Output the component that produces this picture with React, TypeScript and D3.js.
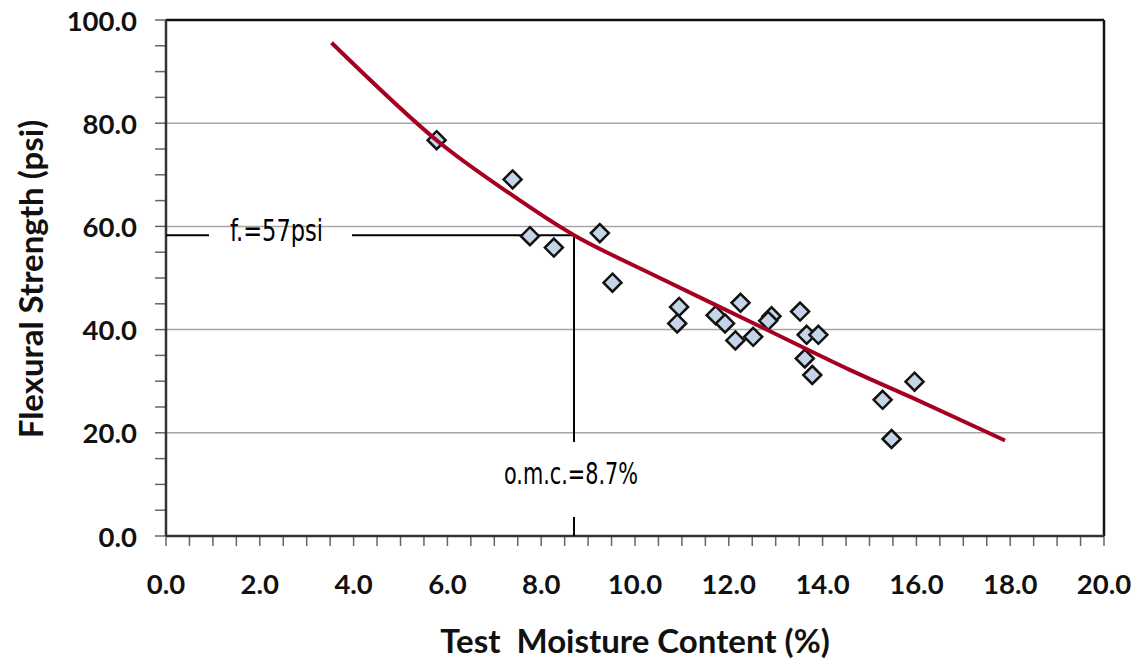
import { useEffect } from "react";
import * as d3 from "d3";

// measured points: test moisture content (%) vs flexural strength (psi)
const moisture = [5.77, 7.39, 7.76, 8.27, 9.25, 9.52, 10.94, 10.9, 11.72, 11.92, 12.25, 12.14, 12.52, 12.91, 12.84, 13.52, 13.66, 13.91, 13.62, 13.78, 15.28, 15.96, 15.47];
const strength = [76.7, 69.1, 58.1, 55.9, 58.7, 49.1, 44.4, 41.2, 42.8, 41.2, 45.2, 37.9, 38.6, 42.6, 41.7, 43.5, 39.0, 39.0, 34.4, 31.2, 26.4, 29.9, 18.8];

// trend curve
const trendX = [3.53, 5.77, 7.23, 8.7, 10.53, 12.67, 14.58, 15.86, 17.89];
const trendY = [95.6, 76.7, 67.0, 58.3, 50.0, 40.6, 32.2, 27.0, 18.5];

const xTicks = [0, 2, 4, 6, 8, 10, 12, 14, 16, 18, 20];
const yTicks = [0, 20, 40, 60, 80, 100];

// optimum moisture content marker
const omc = 8.7;
const fLevel = 58.3;
const fLabel = "f.=57psi";
const omcLabel = "o.m.c.=8.7%";

const W = 1141;
const H = 664;
const margin = { top: 20, right: 37, bottom: 128, left: 166 };

export default function App() {
  useEffect(() => {
    document.body.style.margin = "0";
  }, []);

  const x = d3.scaleLinear().domain([0, 20]).range([margin.left, W - margin.right]);
  const y = d3.scaleLinear().domain([0, 100]).range([H - margin.bottom, margin.top]);

  const minorY = d3.range(0, 100.01, 5);
  const minorX = d3.range(0, 20.01, 0.5);

  const pts = moisture.map((m, i) => ({ m, s: strength[i] }));
  const trend = trendX.map((t, i) => [t, trendY[i]] as [number, number]);
  const line = d3
    .line<[number, number]>()
    .x((d) => x(d[0]))
    .y((d) => y(d[1]))
    .curve(d3.curveCatmullRom.alpha(0.5));

  const x0 = x(0), x1 = x(20), y0 = y(0), y1 = y(100);
  const r = 9;
  const boldFont = "Lato, 'Open Sans', sans-serif";
  const narrowFont = "'Liberation Sans Narrow', 'DejaVu Sans Condensed', sans-serif";

  return (
    <svg width={W} height={H} style={{ display: "block", background: "#fff" }}>
      {/* gridlines */}
      {yTicks.slice(1, -1).map((t) => (
        <line key={"g" + t} x1={x0} x2={x1} y1={y(t)} y2={y(t)} stroke="#a6a6a6" strokeWidth={1.5} />
      ))}

      {/* y ticks */}
      {minorY.map((t) => (
        <line key={"yt" + t} x1={x0 - 11} x2={x0} y1={y(t)} y2={y(t)} stroke="#666" strokeWidth={1.5} />
      ))}
      {/* x ticks */}
      {minorX.map((t) => (
        <line key={"xt" + t} x1={x(t)} x2={x(t)} y1={y0} y2={y0 + 10} stroke="#666" strokeWidth={1.5} />
      ))}

      {/* frame */}
      <line x1={x0} x2={x1} y1={y1} y2={y1} stroke="#111" strokeWidth={2.5} />
      <line x1={x1} x2={x1} y1={y1} y2={y0} stroke="#111" strokeWidth={2.5} />
      <line x1={x0} x2={x0} y1={y1} y2={y0} stroke="#333" strokeWidth={2.5} />
      <line x1={x0} x2={x1} y1={y0} y2={y0} stroke="#333" strokeWidth={2.5} />

      {/* tick labels */}
      {yTicks.map((t) => (
        <text key={"yl" + t} x={137} y={y(t)} textAnchor="end" dominantBaseline="central"
          fontFamily={boldFont} fontWeight="bold" fontSize={27.5} fill="#111">
          {t.toFixed(1)}
        </text>
      ))}
      {xTicks.map((t) => (
        <text key={"xl" + t} x={x(t)} y={583} textAnchor="middle" dominantBaseline="central"
          fontFamily={boldFont} fontWeight="bold" fontSize={27.5} fill="#111">
          {t.toFixed(1)}
        </text>
      ))}

      {/* axis titles */}
      <text x={635} y={640} textAnchor="middle" dominantBaseline="central"
        fontFamily={boldFont} fontWeight="bold" fontSize={33} fill="#111" style={{ whiteSpace: "pre" }}>
        {"Test  Moisture Content (%)"}
      </text>
      <text transform={`translate(30,279) rotate(-90)`} textAnchor="middle" dominantBaseline="central"
        fontFamily={boldFont} fontWeight="bold" fontSize={33} fill="#111">
        Flexural Strength (psi)
      </text>

      {/* annotation lines */}
      <line x1={x0} x2={209} y1={y(fLevel)} y2={y(fLevel)} stroke="#000" strokeWidth={2} />
      <line x1={352} x2={x(omc)} y1={y(fLevel)} y2={y(fLevel)} stroke="#000" strokeWidth={2} />
      <line x1={x(omc)} x2={x(omc)} y1={y(fLevel)} y2={442} stroke="#000" strokeWidth={2} />
      <line x1={x(omc)} x2={x(omc)} y1={517} y2={y0} stroke="#000" strokeWidth={2} />
      <text x={230} y={241} fontFamily={narrowFont} fontSize={31} fill="#000"
        textLength={93} lengthAdjust="spacingAndGlyphs">
        {fLabel}
      </text>
      <text x={504} y={484} fontFamily={narrowFont} fontSize={31} fill="#000"
        textLength={134} lengthAdjust="spacingAndGlyphs">
        {omcLabel}
      </text>

      {/* points */}
      {pts.map((p, i) => (
        <path key={"p" + i}
          d={`M${x(p.m)},${y(p.s) - r}L${x(p.m) + r},${y(p.s)}L${x(p.m)},${y(p.s) + r}L${x(p.m) - r},${y(p.s)}Z`}
          fill="#c5d4e8" stroke="#111" strokeWidth={2.5} />
      ))}

      {/* trend */}
      <path d={line(trend) || ""} fill="none" stroke="#a50021" strokeWidth={4} />
    </svg>
  );
}
